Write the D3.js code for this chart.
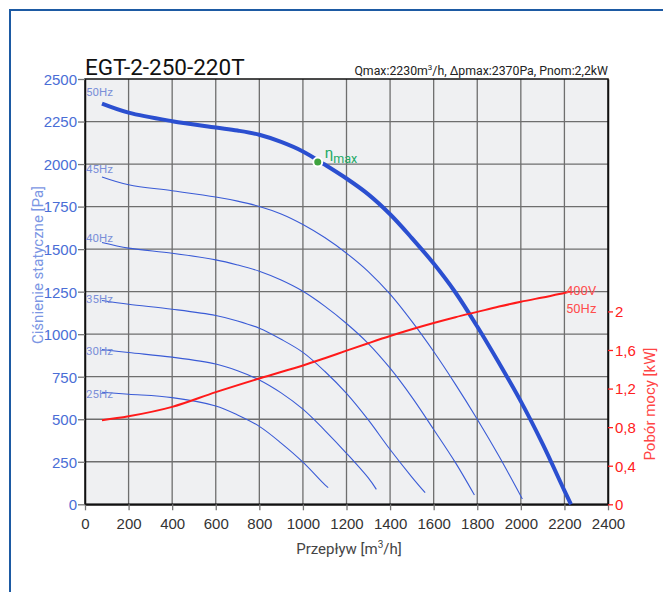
<!DOCTYPE html>
<html><head><meta charset="utf-8">
<script src="https://cdn.jsdelivr.net/npm/d3@7"></script>
<style>
html,body{margin:0;padding:0;background:#fff;}
svg{display:block;font-family:Roboto,"DejaVu Sans",sans-serif;}
</style></head>
<body>
<svg id="c" width="663" height="592"></svg>
<script>
// ---- data ----
const title = "EGT-2-250-220T";
const xTicks = [0,200,400,600,800,1000,1200,1400,1600,1800,2000,2200,2400];
const yTicks = [0,250,500,750,1000,1250,1500,1750,2000,2250,2500];
const kwTicks = [0,0.4,0.8,1.2,1.6,2];
const freqLabels = ["50Hz","45Hz","40Hz","35Hz","30Hz","25Hz"];

const q50 = [78,200,400,600,700,800,900,1000,1100,1200,1300,1400,1500,1600,1700,1800,1900,2000,2100,2200,2230];
const p50 = [2355,2302,2252,2215,2197,2172,2130,2074,1997,1915,1822,1705,1565,1415,1245,1045,830,605,355,80,0];
const q45 = [78,200,400,600,700,800,900,1000,1100,1200,1300,1400,1500,1600,1700,1800,1900,2007];
const p45 = [1924,1878,1843,1806,1782,1751,1707,1645,1568,1476,1368,1235,1075,898,705,500,282,31];
const q40 = [78,200,400,600,700,800,900,1000,1100,1200,1300,1400,1500,1600,1700,1787];
const p40 = [1539,1506,1476,1437,1407,1370,1318,1252,1165,1063,945,800,630,440,245,55];
const q35 = [78,200,400,600,700,800,900,1000,1100,1200,1300,1400,1500,1561];
const p35 = [1198,1176,1147,1110,1078,1035,970,893,782,652,496,322,160,68];
const q30 = [78,200,400,600,700,800,900,1000,1100,1200,1300,1337];
const p30 = [910,892,865,825,785,731,655,559,435,300,155,88];
const q25 = [78,200,400,600,700,800,900,1000,1100,1116];
const p25 = [659,647,627,578,525,458,360,248,116,98];
const qPow = [78,200,400,600,800,1000,1100,1200,1300,1400,1500,1600,1700,1800,1900,2000,2100,2200,2226];
const kwPow = [0.872,0.912,1.01,1.163,1.305,1.44,1.515,1.593,1.67,1.745,1.815,1.88,1.94,1.995,2.05,2.10,2.145,2.19,2.205];
const etaQ = [1068], etaP = [2012];

const subtitleParts = ["Qmax:2230m","3","/h, \u0394pmax:2370Pa, Pnom:2,2kW"];

// ---- layout ----
const svg = d3.select("#c");
const L=85, T=79, R=608, B=504.3;
const x = d3.scaleLinear().domain([0,2400]).range([L,R]);
const y = d3.scaleLinear().domain([0,2500]).range([B,T]);
const yk = d3.scaleLinear().domain([0,4.41]).range([B,T]);

// outer frame
svg.append("rect").attr("x",10).attr("y",10).attr("width",720).attr("height",700)
  .attr("fill","none").attr("stroke","#1d5aa3").attr("stroke-width",2);

// plot background
svg.append("rect").attr("x",L).attr("y",T).attr("width",R-L).attr("height",B-T).attr("fill","#eff0f2");

// grid
const g = svg.append("g");
g.selectAll(".vg").data(xTicks.slice(1,-1)).enter().append("line")
  .attr("x1",d=>x(d)).attr("x2",d=>x(d)).attr("y1",T).attr("y2",B)
  .attr("stroke","#6e6e6e").attr("stroke-width",1.3);
g.selectAll(".hg").data(yTicks.slice(1,-1)).enter().append("line")
  .attr("y1",d=>y(d)).attr("y2",d=>y(d)).attr("x1",L).attr("x2",R)
  .attr("stroke","#6e6e6e").attr("stroke-width",1.3);

// border
svg.append("rect").attr("x",L).attr("y",T).attr("width",R-L).attr("height",B-T)
  .attr("fill","none").attr("stroke","#111").attr("stroke-width",1.5);

// axes
const fmtKw = d=> d3.format("~g")(d).replace(".",",");
const fmtInt = d3.format("d");
const ax = svg.append("g").attr("transform",`translate(0,${B})`)
  .call(d3.axisBottom(x).tickValues(xTicks).tickFormat(fmtInt).tickSize(6).tickPadding(8).tickSizeOuter(0));
ax.select(".domain").attr("stroke","#111").attr("stroke-width",2);
ax.selectAll(".tick line").attr("stroke","#777").attr("stroke-width",1.3);
ax.selectAll("text").attr("fill","#333").style("font-size","15px");

const ay = svg.append("g").attr("transform",`translate(${L},0)`)
  .call(d3.axisLeft(y).tickValues(yTicks).tickFormat(fmtInt).tickSize(7).tickPadding(1).tickSizeOuter(0));
ay.select(".domain").attr("stroke","#111").attr("stroke-width",1.5);
ay.selectAll(".tick line").attr("stroke","#777").attr("stroke-width",1.3);
ay.selectAll("text").attr("fill","#4a6ed6").style("font-size","15px").attr("dy","0.36em");

const ar = svg.append("g").attr("transform",`translate(${R},0)`)
  .call(d3.axisRight(yk).tickValues(kwTicks).tickFormat(fmtKw).tickSize(5).tickPadding(2).tickSizeOuter(0));
ar.select(".domain").attr("stroke","#111").attr("stroke-width",1.5);
ar.selectAll(".tick line").attr("stroke","#ff2020").attr("stroke-width",1.3);
ar.selectAll("text").attr("fill","#ff2020").style("font-size","15px").attr("dy","0.36em");

// axis titles
const xt = svg.append("text").attr("x",349).attr("y",554).attr("text-anchor","middle")
  .attr("fill","#444").style("font-size","15px");
xt.append("tspan").text("Przepływ [m");
xt.append("tspan").text("3").style("font-size","10px").attr("dy",-6);
xt.append("tspan").text("/h]").attr("dy",6);

svg.append("text").attr("transform","translate(43,265) rotate(-90)").attr("text-anchor","middle")
  .attr("fill","#7b96e3").style("font-size","15px").text("Ciśnienie statyczne [Pa]");
svg.append("text").attr("transform","translate(655,404) rotate(-90)").attr("text-anchor","middle")
  .attr("fill","#ff4545").style("font-size","15px").text("Pobór mocy [kW]");

// titles
svg.append("text").attr("x",L).attr("y",75).attr("fill","#111").style("font-size","22.5px").text(title);
const st = svg.append("text").attr("x",R).attr("y",75).attr("text-anchor","end")
  .attr("fill","#222").style("font-size","12.3px");
st.append("tspan").text(subtitleParts[0]);
st.append("tspan").text(subtitleParts[1]).style("font-size","8px").attr("dy",-5);
st.append("tspan").text(subtitleParts[2]).attr("dy",5);

// curves
const line = d3.line().x(d=>x(d[0])).y(d=>y(d[1])).curve(d3.curveCatmullRom.alpha(0.5));
const series = [[q50,p50],[q45,p45],[q40,p40],[q35,p35],[q30,p30],[q25,p25]];
const labelDy = [-7.3,-4,0,2.6,5.7,6];
series.forEach((s,i)=>{
  const pts = s[0].map((q,j)=>[q,s[1][j]]);
  svg.append("path").attr("d",line(pts)).attr("fill","none")
    .attr("stroke", i===0? "#2b4fd0":"#3a5bd6").attr("stroke-width", i===0?4:1.1)
    .attr("stroke-linecap","butt");
  svg.append("text").attr("x",L+1).attr("y",y(s[1][0])+labelDy[i])
    .attr("fill","#7b8fd8").style("font-size","11.5px").text(freqLabels[i]);
});

// power line
const lineK = d3.line().x(d=>x(d[0])).y(d=>yk(d[1])).curve(d3.curveCatmullRom.alpha(0.5));
svg.append("path").attr("d",lineK(qPow.map((q,j)=>[q,kwPow[j]]))).attr("fill","none")
  .attr("stroke","#ff1a1a").attr("stroke-width",2);
svg.append("text").attr("x",566).attr("y",295).attr("fill","#ff4d4d").style("font-size","13px").text("400V");
svg.append("text").attr("x",566).attr("y",313).attr("fill","#ff4d4d").style("font-size","13px").text("50Hz");

// eta max
svg.append("circle").attr("cx",x(etaQ[0])).attr("cy",y(etaP[0])).attr("r",4.5)
  .attr("fill","#3fa33f").attr("stroke","#fff").attr("stroke-width",2);
const et = svg.append("text").attr("x",x(etaQ[0])+7).attr("y",y(etaP[0])-4).attr("fill","#22aa66").style("font-size","15px");
et.append("tspan").text("η");
et.append("tspan").text("max").style("font-size","12.5px").attr("dy",5);
</script>
</body></html>
